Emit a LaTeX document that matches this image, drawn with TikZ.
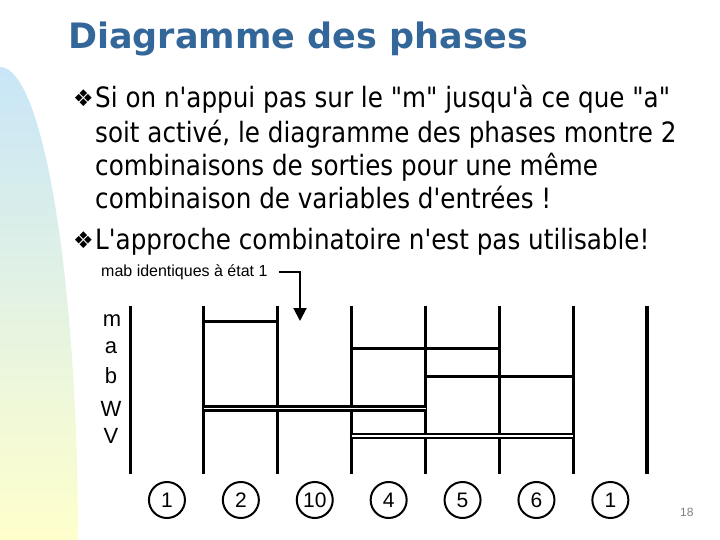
\documentclass[tikz,border=0pt]{standalone}
\usepackage{fontspec}
\setmainfont{DejaVu Sans}[Ligatures=TeXOff]
\newfontfamily\bodyfont{DejaVu Sans}[Ligatures=TeXOff, FakeStretch=0.88]
\newfontfamily\arialfont{Liberation Sans}
\usetikzlibrary{positioning,arrows.meta}
\definecolor{titleblue}{HTML}{336699}
\definecolor{bandtop}{HTML}{C8E6F8}
\definecolor{bandbottom}{HTML}{FFFFCC}

\begin{document}
\begin{tikzpicture}[x=1pt,y=-1pt,
  txt/.style={anchor=base west, inner sep=0pt, font=\bodyfont\fontsize{28}{32}\selectfont},
  bul/.style={anchor=base west, inner sep=0pt, font=\fontsize{23}{26}\selectfont},
  sig/.style={inner sep=0pt, font=\arialfont\fontsize{22}{24}\selectfont},
  phase/.style={line width=3pt},
  single/.style={line width=3pt},
  twin/.style={line width=2.5pt, double, double distance=1.5pt},
  stepnum/.style={draw, circle, line width=2pt, minimum size=36pt, inner sep=0pt,
    font=\arialfont\fontsize{21}{24}\selectfont}]
\useasboundingbox (0,0) rectangle (720,540);

\def\dx{73.9}
\def\xa{130}
\def\ytop{306}
\def\ybot{474}

\def\ym{321}
\def\ya{348}
\def\yb{376}
\def\yw{408.5}
\def\yv{436}

\shade[top color=bandtop, bottom color=bandbottom]
  (0,540) -- (0,67) .. controls (43,67) and (78,279) .. (78,540) -- cycle;

\node[anchor=base west, inner sep=0pt, text=titleblue,
  font=\bfseries\fontsize{35}{40}\selectfont] (title) at (68,49) {Diagramme des phases};

\node[bul] (b1) at (73,107) {❖};
\node[txt] (l1) at (95,108) {Si on n'appui pas sur le "m" jusqu'à ce que "a"};
\node[txt] (l2) at (95,143) {soit activé, le diagramme des phases montre 2};
\node[txt] (l3) at (95,176) {combinaisons de sorties pour une même};
\node[txt] (l4) at (95,209) {combinaison de variables d'entrées !};
\node[bul] (b2) at (73,248) {❖};
\node[txt] (l5) at (95,249) {L'approche combinatoire n'est pas utilisable!};

\node[anchor=base west, inner sep=0pt, font=\arialfont\fontsize{16}{18}\selectfont]
  (mab) at (101,276) {mab identiques à état 1};
\coordinate (tip) at (300,\ym);
\draw[line width=2pt, -{Triangle[width=13pt,length=13pt]}] ([xshift=11pt]mab.east) -| (tip);

\node[sig] (m) at (112,\ym) {m};
\node[sig] (a) at (111,\ya) {a};
\node[sig] (b) at (111,\yb) {b};
\node[sig] (W) at (111,\yw) {W};
\node[sig] (V) at (111,\yv) {V};

\foreach \i in {0,...,6}
  \draw[phase] (\xa+\i*\dx,\ytop) -- (\xa+\i*\dx,\ybot);
\draw[line width=4pt] (\xa+7*\dx,\ytop) -- (\xa+7*\dx,\ybot);

\draw[single] (\xa+\dx,\ym) -- (\xa+2*\dx,\ym);
\draw[single] (\xa+3*\dx,\ya) -- (\xa+5*\dx,\ya);
\draw[single] (\xa+4*\dx,\yb) -- (\xa+6*\dx,\yb);
\draw[twin] (\xa+\dx,\yw) -- (\xa+4*\dx,\yw);
\draw[twin] (\xa+3*\dx,\yv) -- (\xa+6*\dx,\yv);

\foreach \n [count=\i from 0] in {1,2,10,4,5,6,1}
  \node[stepnum] (s\i) at (\xa+\dx/2+\i*\dx,500) {\n};

\node[anchor=base west, inner sep=0pt, text=gray, font=\arialfont\fontsize{12}{14}\selectfont]
  (pg) at (680,516) {18};

\end{tikzpicture}
\end{document}
